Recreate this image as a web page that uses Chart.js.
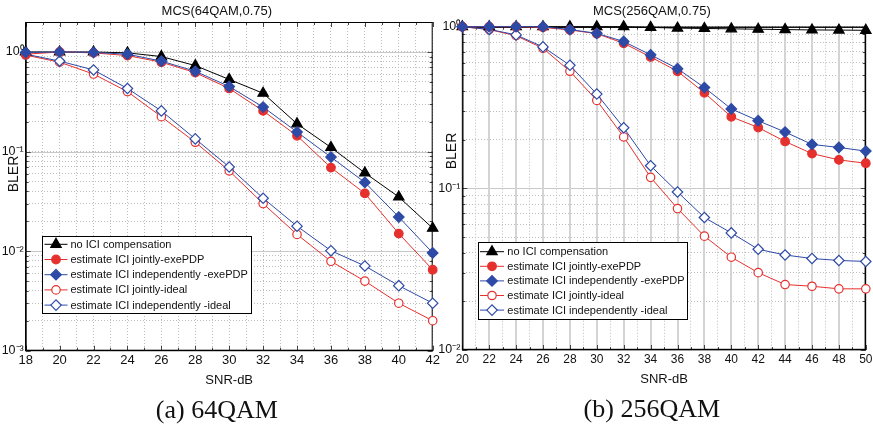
<!DOCTYPE html>
<html><head><meta charset="utf-8">
<script src="https://cdn.jsdelivr.net/npm/chart.js@4.4.0/dist/chart.umd.min.js"></script>
<style>
html,body{margin:0;padding:0;background:#fff;}
#wrap{position:relative;width:873px;height:431px;overflow:hidden;background:#fff;}
#c1{position:absolute;left:0;top:0;}
#c2{position:absolute;left:436px;top:0;}
</style></head><body>
<div id="wrap"><canvas id="c1" width="440" height="431"></canvas><canvas id="c2" width="437" height="431"></canvas></div>
<script>
// ---------------- data ----------------
const seriesLabels = ['no ICI compensation','estimate ICI jointly-exePDP','estimate ICI independently -exePDP','estimate ICI jointly-ideal','estimate ICI independently -ideal'];

// (a) 64QAM
const snr64 = [18,20,22,24,26,28,30,32,34,36,38,40,42];
const noICI64      = [1.0,1.0,1.0,0.98,0.90,0.73,0.53,0.385,0.19,0.11,0.061,0.035,0.017];
const jointExe64   = [0.95,1.0,0.98,0.92,0.79,0.62,0.43,0.256,0.144,0.069,0.038,0.015,0.0065];
const indepExe64   = [0.99,1.0,0.99,0.95,0.81,0.64,0.45,0.28,0.157,0.088,0.049,0.022,0.0096];
const jointIdeal64 = [0.93,0.79,0.60,0.40,0.224,0.124,0.064,0.030,0.0147,0.0079,0.005,0.003,0.002];
const indepIdeal64 = [0.95,0.81,0.66,0.43,0.256,0.134,0.070,0.034,0.0178,0.0101,0.0071,0.0045,0.003];

// (b) 256QAM
const snr256 = [20,22,24,26,28,30,32,34,36,38,40,42,44,46,48,50];
const noICI256      = [1.0,1.0,1.0,1.0,1.0,1.0,1.0,0.99,0.98,0.975,0.97,0.965,0.96,0.955,0.953,0.95];
const jointExe256   = [1.0,1.0,1.0,0.99,0.955,0.905,0.79,0.65,0.53,0.39,0.277,0.238,0.195,0.164,0.15,0.143];
const indepExe256   = [1.0,1.0,1.0,1.0,0.96,0.91,0.81,0.67,0.55,0.42,0.31,0.262,0.223,0.187,0.179,0.17];
const jointIdeal256 = [1.0,0.96,0.88,0.735,0.53,0.35,0.208,0.117,0.075,0.0506,0.0375,0.0301,0.0254,0.0248,0.0239,0.0239];
const indepIdeal256 = [1.0,0.963,0.89,0.75,0.577,0.383,0.237,0.138,0.095,0.066,0.053,0.042,0.0387,0.0368,0.0358,0.0353];

const titles = ['MCS(64QAM,0.75)','MCS(256QAM,0.75)'];
const captions = ['(a) 64QAM','(b) 256QAM'];
const xTitle = 'SNR-dB';
const yTitle = 'BLER';

// ---------------- styles ----------------
const RED = '#e5302d', BLUE = '#2d4aa6', BLACK = '#000000';
const styles = [
  {color: BLACK, pointStyle: 'triangle', radius: 6,   fill: BLACK, order: 2},
  {color: RED,   pointStyle: 'circle',   radius: 4.3, fill: RED,   order: 1},
  {color: BLUE,  pointStyle: 'rectRot',  radius: 5.3, fill: BLUE,  order: 0},
  {color: RED,   pointStyle: 'circle',   radius: 4.2, fill: '#ffffff', order: 4},
  {color: BLUE,  pointStyle: 'rectRot',  radius: 5.2, fill: '#ffffff', order: 3}
];
const FONT = "'Liberation Sans', Arial, sans-serif";
const SUP = {'0':'\u2070','1':'\u00B9','2':'\u00B2','3':'\u00B3','-':'\u207B'};

function makeDatasets(xs, arrays) {
  return arrays.map((arr, k) => ({
    label: seriesLabels[k],
    data: xs.map((x, i) => ({x: x, y: arr[i]})),
    borderColor: styles[k].color,
    backgroundColor: styles[k].fill,
    borderWidth: 1,
    pointStyle: styles[k].pointStyle,
    pointRadius: styles[k].radius,
    pointHoverRadius: styles[k].radius,
    pointBackgroundColor: styles[k].fill,
    pointBorderColor: styles[k].color,
    pointBorderWidth: 1.2,
    tension: 0,
    fill: false,
    clip: false,
    order: styles[k].order
  }));
}

function isDecade(v) {
  const l = Math.log10(v);
  return Math.abs(l - Math.round(l)) < 1e-9;
}
function decadeLabel(v) {
  const e = String(Math.round(Math.log10(v)));
  return '10' + e.split('').map(c => SUP[c]).join('');
}
function logTicks(min, max) {
  const out = [];
  for (let e = Math.floor(Math.log10(min)); e <= Math.ceil(Math.log10(max)); e++) {
    for (let m = 1; m <= 9; m++) {
      const v = parseFloat((m * Math.pow(10, e)).toPrecision(6));
      if (v >= min * 0.9999 && v <= max * 1.0001) out.push(v);
    }
  }
  return out;
}

// grid accents, inward ticks, frame, y-axis title
const accentPlugin = {
  id: 'accent',
  beforeDatasetsDraw(chart, args, opts) {
    const {ctx, chartArea: a, scales} = chart;
    ctx.save();
    ctx.strokeStyle = '#c9c9c9'; ctx.lineWidth = 1; ctx.setLineDash([]);
    scales.y.ticks.forEach(t => {
      if (isDecade(t.value)) {
        const py = Math.round(scales.y.getPixelForValue(t.value)) + 0.5;
        ctx.beginPath(); ctx.moveTo(a.left, py); ctx.lineTo(a.right, py); ctx.stroke();
      }
    });
    if (opts.solidEvenX) {
      ctx.strokeStyle = '#d4d4d4'; ctx.lineWidth = 2;
      scales.x.ticks.forEach(t => {
        if (t.value % 2 === 0) {
          const px = Math.round(scales.x.getPixelForValue(t.value));
          ctx.beginPath(); ctx.moveTo(px, a.top); ctx.lineTo(px, a.bottom); ctx.stroke();
        }
      });
    }
    ctx.strokeStyle = '#444'; ctx.lineWidth = 1;
    const L = 3;
    scales.y.ticks.forEach(t => {
      const py = Math.round(scales.y.getPixelForValue(t.value)) + 0.5;
      const len = isDecade(t.value) ? 5 : L;
      ctx.beginPath();
      ctx.moveTo(a.left, py); ctx.lineTo(a.left + len, py);
      ctx.moveTo(a.right, py); ctx.lineTo(a.right - len, py);
      ctx.stroke();
    });
    scales.x.ticks.forEach(t => {
      const px = Math.round(scales.x.getPixelForValue(t.value)) + 0.5;
      const len = t.value % 2 === 0 ? 5 : L;
      ctx.beginPath();
      ctx.moveTo(px, a.bottom); ctx.lineTo(px, a.bottom - len);
      ctx.moveTo(px, a.top); ctx.lineTo(px, a.top + len);
      ctx.stroke();
    });
    ctx.strokeStyle = '#000'; ctx.lineWidth = opts.frameWidth || 1;
    ctx.strokeRect(a.left + 0.5, a.top + 0.5, a.right - a.left - 1, a.bottom - a.top - 1);
    ctx.restore();
  },
  afterDraw(chart, args, opts) {
    const ctx = chart.ctx;
    ctx.save();
    ctx.translate(opts.yTitleX, opts.yTitleY);
    ctx.rotate(-Math.PI / 2);
    ctx.font = "14px " + FONT;
    ctx.fillStyle = '#111';
    ctx.textAlign = 'center'; ctx.textBaseline = 'middle';
    ctx.fillText(yTitle, 0, 0);
    ctx.restore();
  }
};

// legend box with line + marker samples
const legendPlugin = {
  id: 'boxLegend',
  afterDatasetsDraw(chart, args, o) {
    const ctx = chart.ctx;
    ctx.save();
    ctx.font = o.font;
    const ds = chart.data.datasets;
    let maxW = 0;
    ds.forEach(d => { maxW = Math.max(maxW, ctx.measureText(d.label).width); });
    const w = o.textX + maxW + 3;
    const h = o.height;
    ctx.fillStyle = '#fff';
    ctx.fillRect(o.x, o.y, w, h);
    ctx.strokeStyle = '#000'; ctx.lineWidth = 1;
    ctx.strokeRect(Math.round(o.x) + 0.5, Math.round(o.y) + 0.5, Math.round(w), Math.round(h));
    ds.forEach((d, i) => {
      const cy = o.y + o.first + i * o.rowH;
      ctx.strokeStyle = d.borderColor; ctx.lineWidth = 1;
      ctx.beginPath(); ctx.moveTo(o.x + o.lineStart, cy); ctx.lineTo(o.x + o.lineEnd, cy); ctx.stroke();
      ctx.fillStyle = d.pointBackgroundColor; ctx.strokeStyle = d.pointBorderColor; ctx.lineWidth = d.pointBorderWidth;
      Chart.helpers.drawPoint(ctx, {pointStyle: d.pointStyle, radius: d.pointRadius, rotation: 0, borderWidth: d.pointBorderWidth},
        o.x + (o.lineStart + o.lineEnd) / 2, cy);
      ctx.fillStyle = '#111'; ctx.textBaseline = 'middle'; ctx.textAlign = 'left';
      ctx.fillText(d.label, o.x + o.textX, cy + 0.5);
    });
    ctx.restore();
  }
};

function makeChart(canvasId, cfg) {
  const yTickVals = logTicks(cfg.yMin, cfg.yMax);
  const xTickVals = [];
  for (let v = cfg.xMin; v <= cfg.xMax; v++) xTickVals.push(v);
  return new Chart(document.getElementById(canvasId), {
    type: 'line',
    data: {datasets: makeDatasets(cfg.xs, cfg.series)},
    options: {
      responsive: false,
      animation: false,
      devicePixelRatio: 1,
      layout: {padding: cfg.padding},
      scales: {
        x: {
          type: 'linear', min: cfg.xMin, max: cfg.xMax,
          afterBuildTicks: s => { s.ticks = xTickVals.map(v => ({value: v})); },
          afterFit: s => { s.height = cfg.xAxisH; s.paddingLeft = 0; s.paddingRight = 0; },
          ticks: {autoSkip: false, maxRotation: 0, padding: 2, color: '#111',
                  font: {family: FONT, size: cfg.xTickSize},
                  callback: v => (v % 2 === 0 ? String(v) : '')},
          grid: {color: '#bdbdbd', lineWidth: 1, drawTicks: false, tickLength: 0},
          border: {display: true, color: '#000', width: 1, dash: [1, 2]},
          title: {display: true, text: xTitle, color: '#111', font: {family: FONT, size: 13}, padding: {top: 0, bottom: 0}}
        },
        y: {
          type: 'logarithmic', min: cfg.yMin, max: cfg.yMax,
          afterBuildTicks: s => { s.ticks = yTickVals.map(v => ({value: v})); },
          afterFit: s => { s.width = cfg.yAxisW; s.paddingTop = 0; s.paddingBottom = 0; },
          ticks: {autoSkip: false, padding: 2, color: '#111', font: {family: FONT, size: 12.5},
                  callback: v => (isDecade(v) ? decadeLabel(v) : '')},
          grid: {color: '#bdbdbd', lineWidth: 1, drawTicks: false, tickLength: 0},
          border: {display: true, color: '#000', width: 1, dash: [1, 2]},
          title: {display: false}
        }
      },
      plugins: {
        legend: {display: false},
        tooltip: {enabled: false},
        title: {display: true, text: cfg.title, color: '#111', font: {family: FONT, size: 13, weight: 'normal'},
                padding: {top: 4, bottom: cfg.titlePadBottom}},
        subtitle: {display: true, position: 'bottom', text: cfg.caption, color: '#111',
                   font: {family: "'Liberation Serif', 'Times New Roman', serif", size: 26, weight: 'normal'},
                   padding: {top: 7.2, bottom: cfg.capPadBottom}},
        accent: {solidEvenX: cfg.solidEvenX, frameWidth: cfg.frameWidth, yTitleX: cfg.yTitleX, yTitleY: cfg.yTitleY},
        boxLegend: cfg.legend
      }
    },
    plugins: [accentPlugin, legendPlugin]
  });
}

makeChart('c1', {
  xs: snr64, series: [noICI64, jointExe64, indepExe64, jointIdeal64, indepIdeal64],
  xMin: 18, xMax: 42, yMin: 0.001, yMax: 2,
  padding: {left: 1, right: 7.3, top: 0, bottom: 0},
  yAxisW: 24.7, xAxisH: 37.5, titlePadBottom: 2.4, capPadBottom: 4.4,
  yTitleX: 14, yTitleY: 174,
  xTickSize: 13, title: titles[0], caption: captions[0], solidEvenX: false, frameWidth: 1,
  legend: {x: 42, y: 236, height: 77, first: 8.3, rowH: 15.2, lineStart: 2.5, lineEnd: 25.5, textX: 28.5,
           font: "11px 'Liberation Sans', Arial, sans-serif"}
});

makeChart('c2', {
  xs: snr256, series: [noICI256, jointExe256, indepExe256, jointIdeal256, indepIdeal256],
  xMin: 20, xMax: 50, yMin: 0.01, yMax: 1,
  padding: {left: 0, right: 5.3, top: 0, bottom: 0},
  yAxisW: 26.3, xAxisH: 37.5, titlePadBottom: 7.1, capPadBottom: 5.1,
  yTitleX: 16, yTitleY: 151,
  xTickSize: 12, title: titles[1], caption: captions[1], solidEvenX: true, frameWidth: 1.4,
  legend: {x: 42.3, y: 242.3, height: 77, first: 9.4, rowH: 14.6, lineStart: 1.7, lineEnd: 25.7, textX: 29,
           font: "11px 'Liberation Sans', Arial, sans-serif"}
});
</script>
</body></html>
